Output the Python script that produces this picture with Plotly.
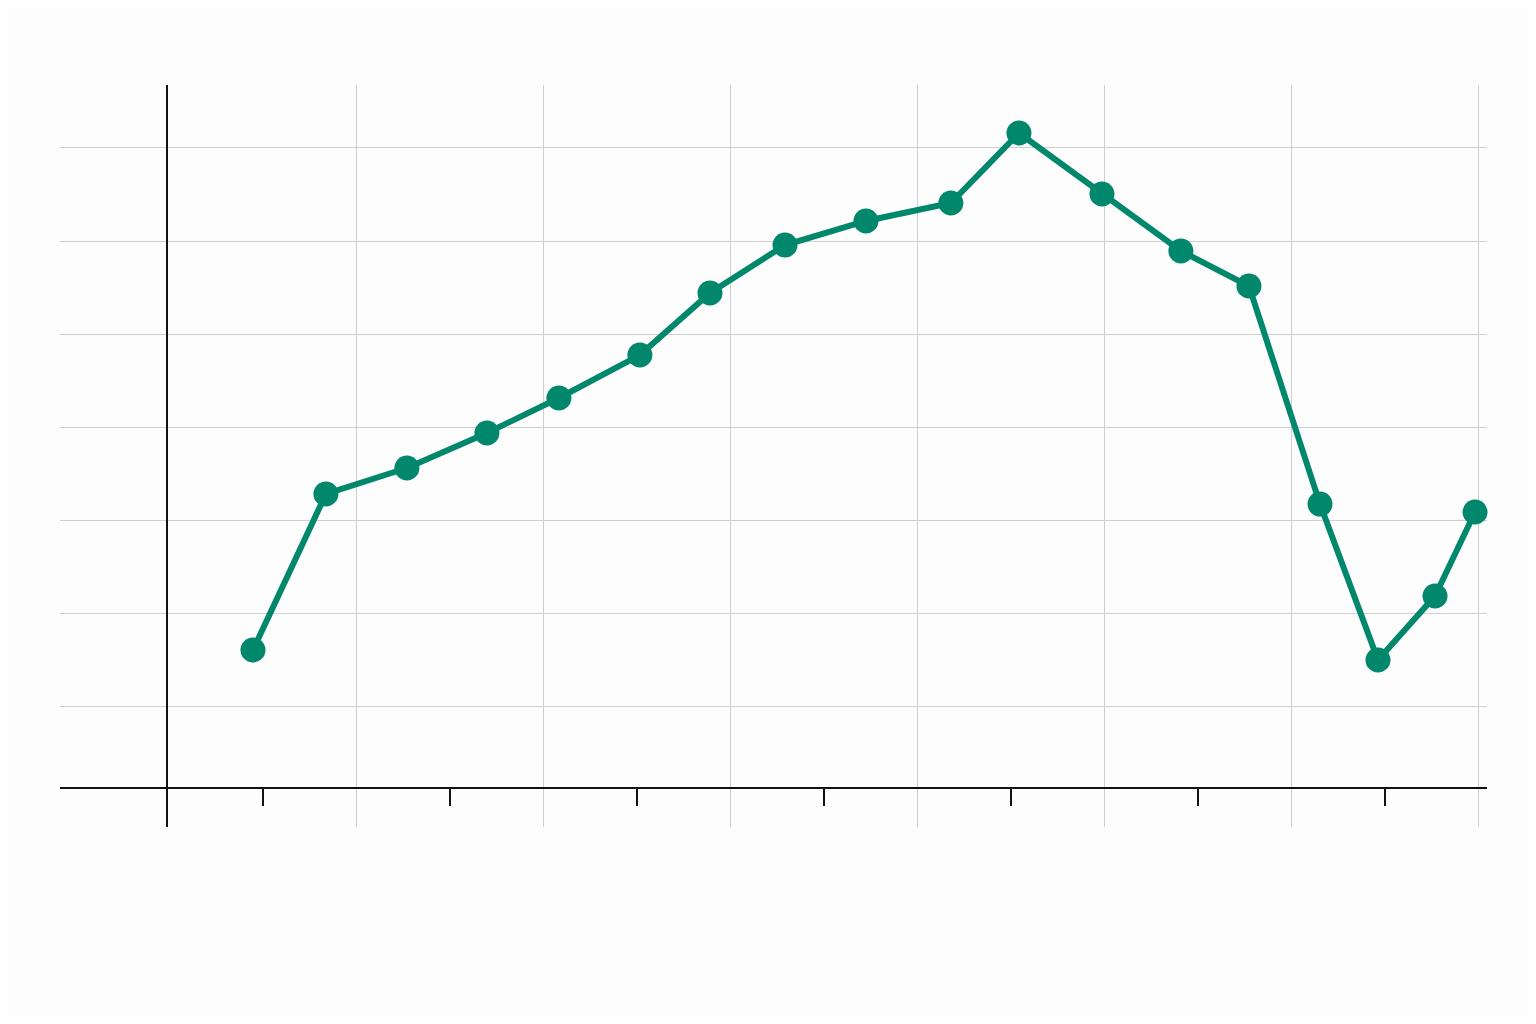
import plotly.graph_objects as go

# Data (arbitrary units; no labels in the reference)
x_values = [0.444, 0.834, 1.267, 1.695, 2.080, 2.513, 2.888, 3.289, 3.722,
            4.176, 4.540, 4.984, 5.406, 5.770, 6.150, 6.460, 6.765, 6.979]
y_values = [1.609, 3.284, 3.563, 3.939, 4.315, 4.776, 5.442, 5.957, 6.215,
            6.408, 7.160, 6.505, 5.893, 5.517, 3.176, 1.502, 2.189, 3.091]

x_major_ticks = [0.5, 1.5, 2.5, 3.5, 4.5, 5.5, 6.5]
x_grid_vals = [1, 2, 3, 4, 5, 6, 7]
y_grid_vals = [1, 2, 3, 4, 5, 6, 7]

LINE_COLOR = "#00876C"

fig = go.Figure()
fig.add_trace(go.Scatter(
    x=x_values, y=y_values, mode="lines+markers",
    line=dict(color=LINE_COLOR, width=6),
    marker=dict(color=LINE_COLOR, size=25),
    cliponaxis=False, showlegend=False, hoverinfo="skip",
))

fig.update_layout(
    width=1520, height=1008,
    margin=dict(l=52, r=41, t=77, b=189, autoexpand=False),
    paper_bgcolor="#FDFDFD", plot_bgcolor="#FDFDFD",
    xaxis=dict(
        range=[-0.588, 7.043],
        anchor="free", position=0.0526,
        showline=True, linecolor="#111111", linewidth=2,
        tickmode="array", tickvals=x_major_ticks, showticklabels=False,
        ticks="outside", ticklen=17, tickwidth=2, tickcolor="#111111",
        showgrid=False, zeroline=False,
        minor=dict(tickmode="array", tickvals=x_grid_vals, showgrid=True,
                   gridcolor="#CFCFCF", gridwidth=1, ticks=""),
    ),
    yaxis=dict(
        range=[-0.291, 7.675],
        anchor="free", position=0.075,
        showline=True, linecolor="#111111", linewidth=2,
        tickmode="array", tickvals=y_grid_vals, showticklabels=False,
        ticks="", showgrid=True, gridcolor="#CFCFCF", gridwidth=1,
        zeroline=False,
    ),
)

fig.write_html("out.html")
